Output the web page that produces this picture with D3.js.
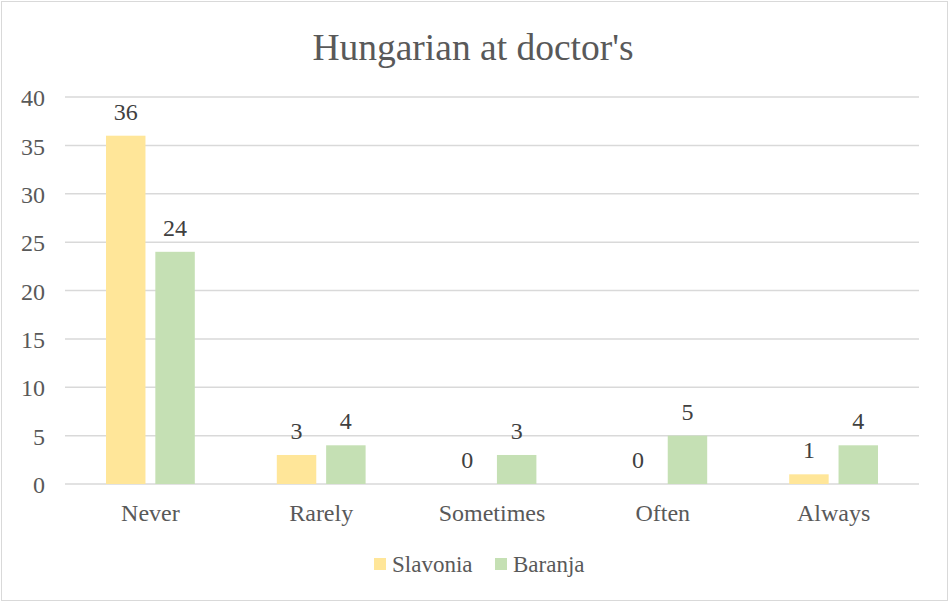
<!DOCTYPE html>
<html>
<head>
<meta charset="utf-8">
<script src="https://cdn.jsdelivr.net/npm/d3@7"></script>
<style>
  body { margin: 0; background: #fff; }
</style>
</head>
<body>
<svg id="chart" width="949" height="602"></svg>
<script>
var categories = ["Never", "Rarely", "Sometimes", "Often", "Always"];
var seriesNames = ["Slavonia", "Baranja"];
var slavonia = [36, 3, 0, 0, 1];
var baranja = [24, 4, 3, 5, 4];
var yTicks = [0, 5, 10, 15, 20, 25, 30, 35, 40];
var colors = ["#ffe699", "#c5e0b4"];
var serifFont = "Liberation Serif";

var W = 949, H = 602;
var margin = {top: 97, right: 30, bottom: 118, left: 65},
    width = W - margin.left - margin.right,
    height = H - margin.top - margin.bottom;

var svg = d3.select("#chart");

// outer frame
svg.append("rect")
    .attr("x", 1.5).attr("y", 1.5)
    .attr("width", W - 3).attr("height", H - 3)
    .attr("fill", "#fff")
    .attr("stroke", "#d9d9d9");

var g = svg.append("g")
    .attr("transform", "translate(" + margin.left + "," + margin.top + ")");

var xScale = d3.scaleBand()
    .domain(categories)
    .range([0, width])
    .paddingInner(0)
    .paddingOuter(0);
var inner = d3.scaleBand()
    .domain(seriesNames)
    .range([41, xScale.bandwidth() - 41])
    .paddingInner(0.2);
var yScale = d3.scaleLinear()
    .domain([0, 40])
    .range([height, 0]);

// gridlines
g.selectAll(".grid")
    .data(yTicks)
    .enter().append("line")
    .attr("x1", 0).attr("x2", width)
    .attr("y1", function(d) { return yScale(d); })
    .attr("y2", function(d) { return yScale(d); })
    .attr("stroke", "#d9d9d9")
    .attr("stroke-width", 1.5);

// y axis labels
var yaxis = d3.axisLeft(yScale).tickValues(yTicks).tickSize(0).tickPadding(20);
g.append("g").call(yaxis)
    .attr("font-family", serifFont)
    .call(function(a) { a.select(".domain").remove(); })
    .selectAll("text")
    .attr("font-size", 24)
    .attr("dy", "0.36em")
    .attr("fill", "#595959");

// x axis labels
var xaxis = d3.axisBottom(xScale).tickSize(0).tickPadding(20);
g.append("g")
    .attr("transform", "translate(0," + height + ")")
    .call(xaxis)
    .attr("font-family", serifFont)
    .call(function(a) { a.select(".domain").remove(); })
    .selectAll("text")
    .attr("font-size", 24)
    .attr("fill", "#595959");

var rows = categories.map(function(c, i) {
    return {cat: c, vals: [{s: "Slavonia", v: slavonia[i], c: colors[0]}, {s: "Baranja", v: baranja[i], c: colors[1]}]};
});

var groups = g.selectAll(".grp")
    .data(rows)
    .enter().append("g")
    .attr("transform", function(d) { return "translate(" + xScale(d.cat) + ",0)"; });

groups.selectAll("rect")
    .data(function(d) { return d.vals; })
    .enter().append("rect")
    .attr("x", function(d) { return inner(d.s); })
    .attr("width", inner.bandwidth())
    .attr("y", function(d) { return yScale(d.v); })
    .attr("height", function(d) { return height - yScale(d.v); })
    .attr("fill", function(d) { return d.c; });

// value labels
groups.selectAll(".lbl")
    .data(function(d) { return d.vals; })
    .enter().append("text")
    .attr("x", function(d) { return inner(d.s) + inner.bandwidth() / 2; })
    .attr("y", function(d) { return yScale(d.v) - 16; })
    .attr("text-anchor", "middle")
    .attr("font-family", serifFont)
    .attr("font-size", 24)
    .attr("fill", "#404040")
    .text(function(d) { return d.v; });

// title
svg.append("text")
    .attr("x", 473)
    .attr("y", 60)
    .attr("text-anchor", "middle")
    .attr("font-family", serifFont)
    .attr("font-size", 37.5)
    .attr("fill", "#595959")
    .text("Hungarian at doctor's");

// legend
var legendX = [374, 495];
seriesNames.forEach(function(s, i) {
    svg.append("rect")
        .attr("x", legendX[i]).attr("y", 558)
        .attr("width", 12).attr("height", 12)
        .attr("fill", colors[i]);
    svg.append("text")
        .attr("x", legendX[i] + 18).attr("y", 572)
        .attr("font-family", serifFont)
        .attr("font-size", 23)
        .attr("fill", "#595959")
        .text(s);
});
</script>
</body>
</html>
